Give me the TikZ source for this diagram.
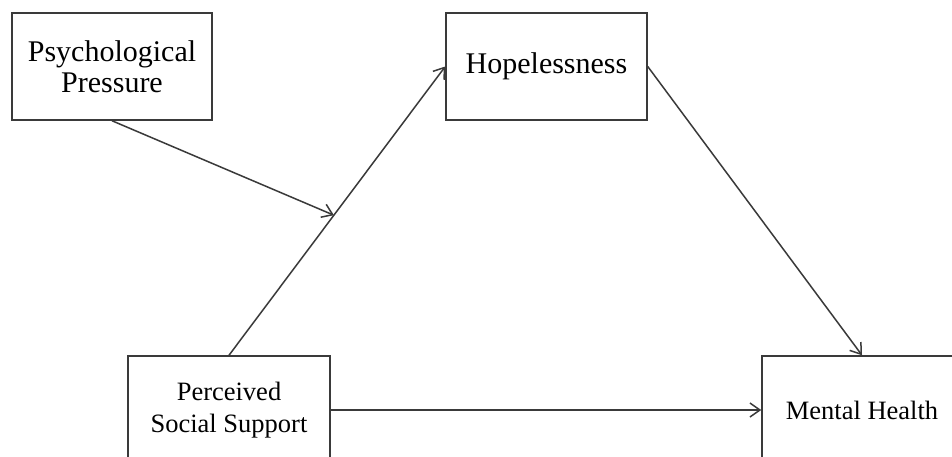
\documentclass[tikz,border=0pt]{standalone}
\usepackage{fontspec}
\setmainfont{Liberation Serif}
\usepackage{tikz}
\usetikzlibrary{arrows.meta,positioning}
\definecolor{LineGray}{HTML}{3A3A3A}

\begin{document}
\begin{tikzpicture}[
    x=0.5pt, y=-0.5pt,
    var/.style={draw=LineGray, line width=0.75pt, align=center, inner sep=0pt, fill=white},
    topbox/.style={var, font=\fontsize{15}{15.5}\selectfont},
    lowbox/.style={var, font=\fontsize{13.25}{16}\selectfont},
    arr/.style={-{Straight Barb[length=5pt, width=7pt, line width=0.75pt]}, line width=0.75pt, draw=LineGray}
]
\clip (0,0) rectangle (952,456);
\fill[white] (0,0) rectangle (952,456);

% variables
\node[topbox, minimum width=100pt, minimum height=53.5pt] (pressure) at (112,66.5) {Psychological\\Pressure};
\node[topbox, minimum width=100.5pt, minimum height=53.5pt] (hope) at (546.5,66.5) {Hopelessness};
\node[lowbox, minimum width=101pt, minimum height=54pt] (support) at (229,410) {Perceived\\Social Support};
\node[lowbox, minimum width=100pt, minimum height=54pt] (mental) at (862,410) {Mental Health};

% paths
\draw[arr] (support.north) -- coordinate[pos=0.485] (mod) (hope.west);
\draw[arr] (hope.east) -- (mental.north);
\draw[arr] (support.east) -- (mental.west);
\draw[arr] (pressure.south) -- (mod);
\end{tikzpicture}
\end{document}
